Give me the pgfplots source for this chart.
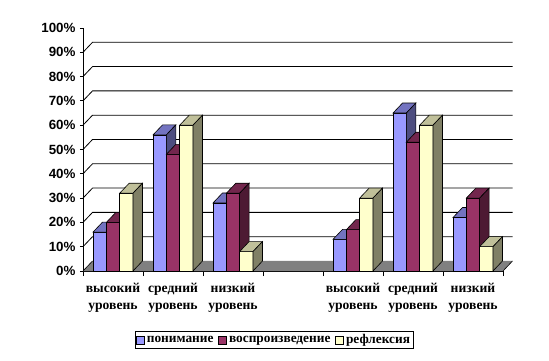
\documentclass[border=0pt]{standalone}
\usepackage{fontspec}
\setmainfont{Liberation Serif}
\newfontfamily\arialfont{Liberation Sans}
\usepackage{pgfplots}
\usepackage{pgfplotstable}
\pgfplotsset{compat=1.18}

\definecolor{bfront}{HTML}{9999FF}
\definecolor{btop}{HTML}{7373C0}
\definecolor{bside}{HTML}{4D4D80}
\definecolor{rfront}{HTML}{993366}
\definecolor{rtop}{HTML}{73264D}
\definecolor{rside}{HTML}{4D1A33}
\definecolor{yfront}{HTML}{FFFFCC}
\definecolor{ytop}{HTML}{C0C09A}
\definecolor{yside}{HTML}{808066}
\definecolor{floorgray}{HTML}{808080}

\newcommand\bw{13.33}
\newcommand\dx{9.5}
\newcommand\dy{10}
\newcommand\yu{2.43}

% 3D box drawn at the top of each bar: front face, top face, side face
\newcommand\declarebox[5]{%
\pgfdeclareplotmark{#1}{%
  \pgfmathsetmacro\xl{#2-0.5*\bw}%
  \pgfmathsetmacro\xr{#2+0.5*\bw}%
  \pgfmathsetmacro\xlb{\xl+\dx}%
  \pgfmathsetmacro\xrb{\xr+\dx}%
  \pgfmathsetmacro\hh{-\val*\yu}%
  \pgfmathsetmacro\hb{\hh+\dy}%
  \pgfsetlinewidth{0.6bp}%
  \pgfsetstrokecolor{black}%
  \pgfsetfillcolor{#3}%
  \pgfpathrectanglecorners{\pgfpoint{\xl bp}{0bp}}{\pgfpoint{\xr bp}{\hh bp}}%
  \pgfusepath{fill,stroke}%
  \pgfsetfillcolor{#4}%
  \pgfpathmoveto{\pgfpoint{\xl bp}{0bp}}%
  \pgfpathlineto{\pgfpoint{\xr bp}{0bp}}%
  \pgfpathlineto{\pgfpoint{\xrb bp}{\dy bp}}%
  \pgfpathlineto{\pgfpoint{\xlb bp}{\dy bp}}%
  \pgfpathclose
  \pgfusepath{fill,stroke}%
  \pgfsetfillcolor{#5}%
  \pgfpathmoveto{\pgfpoint{\xr bp}{0bp}}%
  \pgfpathlineto{\pgfpoint{\xrb bp}{\dy bp}}%
  \pgfpathlineto{\pgfpoint{\xrb bp}{\hb bp}}%
  \pgfpathlineto{\pgfpoint{\xr bp}{\hh bp}}%
  \pgfpathclose
  \pgfusepath{fill,stroke}%
}}
\declarebox{boxB}{-13.33}{bfront}{btop}{bside}
\declarebox{boxR}{0}{rfront}{rtop}{rside}
\declarebox{boxY}{13.33}{yfront}{ytop}{yside}

\pgfplotstableread{
x b r y
0 16 20 32
1 56 48 60
2 28 32 8
4 13 17 30
5 65 53 60
6 22 30 10
}\data

\begin{document}
\begin{tikzpicture}
\useasboundingbox (0,0) rectangle (549bp,361bp);
\begin{axis}[
  at={(83bp,90bp)}, anchor=south west,
  scale only axis, width=420bp, height=243bp,
  xmin=-0.5, xmax=6.5, ymin=0, ymax=100,
  clip=false,
  axis x line*=bottom, axis y line*=left,
  axis line style={black, line width=0.8bp},
  tick align=outside,
  ytick={0,10,...,100},
  yticklabel={\pgfmathprintnumber{\tick}\%},
  /pgf/number format/assume math mode=true,
  yticklabel style={font=\arialfont\bfseries\fontsize{13.33bp}{14bp}\selectfont, xshift=-1bp},
  major tick length=3bp,
  minor tick length=5bp,
  xtick={0,...,6},
  xticklabels={{высокий\\уровень},{средний\\уровень},{низкий\\уровень},{},{высокий\\уровень},{средний\\уровень},{низкий\\уровень}},
  xticklabel style={align=center, font=\bfseries\fontsize{13.6bp}{17bp}\selectfont, yshift=-6bp},
  major x tick style={draw=none},
  minor xtick={-0.5,0.5,...,6.5},
  minor x tick style={black, line width=0.8bp},
  y tick style={black, line width=0.8bp},
  legend style={at={(0.455,-0.284)}, anchor=center, legend columns=3, draw=black, line width=0.8bp,
    font=\bfseries\fontsize{13.33bp}{14bp}\selectfont, inner sep=1bp,
    /tikz/every even column/.append style={column sep=3bp}},
]
% floor
\fill[floorgray] (axis cs:-0.5,0) -- (axis cs:6.5,0) -- ([shift={(\dx bp,\dy bp)}]axis cs:6.5,0) -- ([shift={(\dx bp,\dy bp)}]axis cs:-0.5,0) -- cycle;
\draw[black, line width=0.6bp] (axis cs:6.5,0) -- ([shift={(\dx bp,\dy bp)}]axis cs:6.5,0);
\draw[black, line width=0.6bp] (axis cs:-0.5,0) -- ([shift={(\dx bp,\dy bp)}]axis cs:-0.5,0);
% back wall gridlines
\pgfplotsinvokeforeach{10,20,...,90}{
  \draw[black, line width=0.8bp] (axis cs:-0.5,#1) -- ([shift={(\dx bp,\dy bp)}]axis cs:-0.5,#1) -- ([shift={(\dx bp,\dy bp)}]axis cs:6.5,#1);
}
% front faces as bars (legend), then 3D boxes on top in painter's order
\addplot[ybar, bar width=13.33bp, bar shift=-13.33bp, fill=bfront, draw=black, line width=0.6bp,
  legend image code/.code={\draw[fill=bfront, draw=black, line width=0.6bp] (0bp,-4bp) rectangle (8bp,4bp);}] table[x=x,y=b]{\data};
\addlegendentry{понимание}
\addplot[ybar, bar width=13.33bp, bar shift=0bp, fill=rfront, draw=black, line width=0.6bp,
  legend image code/.code={\draw[fill=rfront, draw=black, line width=0.6bp] (0bp,-4bp) rectangle (8bp,4bp);}] table[x=x,y=r]{\data};
\addlegendentry{воспроизведение}
\addplot[ybar, bar width=13.33bp, bar shift=13.33bp, fill=yfront, draw=black, line width=0.6bp,
  legend image code/.code={\draw[fill=yfront, draw=black, line width=0.6bp] (0bp,-4bp) rectangle (8bp,4bp);}] table[x=x,y=y]{\data};
\addlegendentry{рефлексия}
\addplot[scatter, only marks, mark=boxB, forget plot, visualization depends on={\thisrow{b} \as \val}] table[x=x,y=b]{\data};
\addplot[scatter, only marks, mark=boxR, forget plot, visualization depends on={\thisrow{r} \as \val}] table[x=x,y=r]{\data};
\addplot[scatter, only marks, mark=boxY, forget plot, visualization depends on={\thisrow{y} \as \val}] table[x=x,y=y]{\data};
\end{axis}
\end{tikzpicture}
\end{document}
